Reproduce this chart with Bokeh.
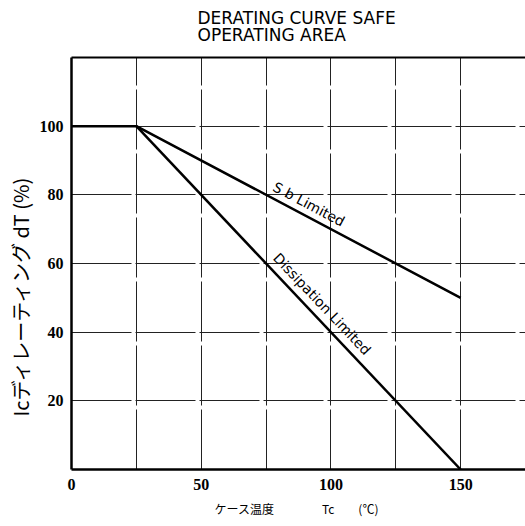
import math
from bokeh.plotting import figure
from bokeh.models import Range1d, FixedTicker, Label, Title, LinearAxis
from bokeh.embed import file_html
from bokeh.resources import INLINE

# ---- data ----
sb_temp = [0, 25, 150]
sb_pct = [100, 100, 50]
diss_temp = [25, 150]
diss_pct = [100, 0]
x_ticks = [0, 50, 100, 150]
y_ticks = [20, 40, 60, 80, 100]
grid_x = [25, 50, 75, 100, 125, 150]
grid_y = [20, 40, 60, 80, 100]
title_text = "DERATING CURVE SAFE\nOPERATING AREA"
x_label = "ケース温度　　　　Tc　　(℃)"
y_label = "Icディレーティング dT (%)"
sb_label = "S b Limited"
diss_label = "Dissipation Limited"

p = figure(width=525, height=526, x_range=Range1d(0, 175), y_range=Range1d(0, 120),
           output_backend="svg", toolbar_location=None, title=None,
           min_border_left=71, min_border_right=0, min_border_top=57, min_border_bottom=57)
p.outline_line_color = None
p.background_fill_color = "white"

for g, ticks in ((p.xgrid, grid_x), (p.ygrid, grid_y)):
    g.ticker = FixedTicker(ticks=ticks)
    g.grid_line_color = "#222222"
    g.grid_line_width = 1
    g.grid_line_dash = "60 4"

for ax, ticks in ((p.xaxis, x_ticks), (p.yaxis, y_ticks)):
    ax.ticker = FixedTicker(ticks=ticks)
    ax.major_tick_line_color = None
    ax.minor_tick_line_color = None
    ax.axis_line_color = "black"
    ax.axis_line_width = 2.5
    ax.major_label_text_font = "Liberation Serif"
    ax.major_label_text_font_style = "bold"
    ax.major_label_text_font_size = "16px"
    ax.major_label_text_color = "black"
p.xaxis.major_label_standoff = 3
p.yaxis.major_label_standoff = 2

# top border as an axis without visible labels
top = LinearAxis(ticker=FixedTicker(ticks=x_ticks), axis_line_color="black", axis_line_width=2,
                 major_tick_line_color=None, minor_tick_line_color=None,
                 major_label_text_color=None, major_label_text_font_size="8px",
                 major_label_standoff=1)
p.add_layout(top, "above")

p.line(sb_temp, sb_pct, line_color="black", line_width=2.5)
p.line(diss_temp, diss_pct, line_color="black", line_width=2.5)

ang_sb = -math.radians(27.8)
ang_d = -math.radians(46.5)
p.add_layout(Label(x=91.5, y=77.3, text=sb_label, angle=ang_sb, text_align="center",
                   text_baseline="middle", text_font="DejaVu Sans", text_font_size="14px",
                   text_color="black"))
p.add_layout(Label(x=96.6, y=48.2, text=diss_label, angle=ang_d, text_align="center",
                   text_baseline="middle", text_font="DejaVu Sans", text_font_size="14px",
                   text_color="black"))

p.add_layout(Title(text=title_text, align="left", offset=126, standoff=10, vertical_align="top",
                   text_font="DejaVu Sans", text_font_size="17px", text_font_style="normal",
                   text_line_height=0.85, text_color="black"), "above")

p.add_layout(Title(text=x_label, align="left", offset=143, standoff=10,
                   text_font="Noto Sans CJK JP", text_font_size="12px", text_font_style="normal",
                   text_color="black"), "below")
p.add_layout(Title(text=y_label, align="left", offset=53, standoff=4,
                   text_font="Noto Sans CJK JP", text_font_size="20px", text_font_style="normal",
                   text_color="black"), "left")

open("out.html", "w").write(file_html(p, INLINE))
